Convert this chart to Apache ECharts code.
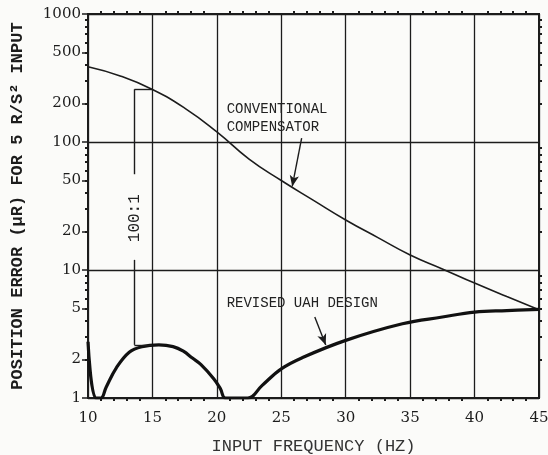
<!DOCTYPE html>
<html>
<head>
<meta charset="utf-8">
<script src="https://cdn.jsdelivr.net/npm/echarts@6/dist/echarts.min.js"></script>
<style>
html,body{margin:0;padding:0;background:#fbfbf9;}
#c{width:548px;height:455px;}
</style>
</head>
<body>
<div id="c"></div>
<script>
// ---- data ----
const convFreq  = [10, 12.5, 15, 17.5, 20, 22.5, 25, 27.5, 30, 32.5, 35, 37.5, 40, 42.5, 45];
const convError = [387, 328, 257, 184, 120, 73.5, 50, 35, 24.6, 17.9, 13.1, 10.2, 7.9, 6.2, 4.9];

const revFreq  = [10, 10.6, 11.0, 11.4, 12.2, 13.2, 14.2, 15.5, 16.6, 17.4, 18.1, 18.75, 19.77, 20.28, 20.67, 22.4, 23.5, 25, 26.7, 30, 34.4, 37.5, 40, 42.5, 45];
const revError = [2.75, 1, 1, 1.21, 1.72, 2.28, 2.52, 2.6, 2.52, 2.32, 2.05, 1.83, 1.41, 1.18, 1, 1, 1.25, 1.69, 2.08, 2.82, 3.8, 4.29, 4.69, 4.82, 4.93];

const xTicks = [10, 15, 20, 25, 30, 35, 40, 45];
const xMinorValues = [11,12,13,14,16,17,18,19,21,22,23,24,26,27,28,29,31,32,33,34,36,37,38,39,41,42,43,44];
const yTickLabels = [1, 2, 5, 10, 20, 50, 100, 200, 500, 1000];
const yMinorValues = [2,3,4,5,6,7,8,9,20,30,40,50,60,70,80,90,200,300,400,500,600,700,800,900];

// annotation anchors (data coordinates)
const convArrow = [[26.58, 107], [25.85, 45]];
const revArrow  = [[27.6, 4.3], [28.45, 2.6]];
const ratioTop    = [[13.6, 258], [13.6, 56]];
const ratioBottom = [[13.6, 12], [13.6, 2.6]];
const ratioTopTick    = [[13.6, 258], [15.0, 258]];
const ratioBottomTick = [[13.6, 2.6], [15.0, 2.6]];

const ink = '#1c1c1c';
const chart = echarts.init(document.getElementById('c'));

const yLog = yTickLabels.map(v => Math.log10(v));
const yMinorLog = yMinorValues.map(v => Math.log10(v));

function seg(a, b, arrowEnd) {
  return [
    {coord: a, symbol: 'none'},
    {coord: b, symbol: arrowEnd ? 'arrow' : 'none'}
  ];
}
const G = {left: 88, right: 9, top: 14, bottom: 57, outerBoundsMode: 'none', containLabel: false};
const minorTick = vals => ({show: true, inside: false, length: 3, customValues: vals, lineStyle: {color: ink, width: 2}});
const tickOnlyX = (gi, pos) => ({
  type: 'value', gridIndex: gi, min: 10, max: 45, position: pos,
  axisLine: {show: false}, splitLine: {show: false},
  axisLabel: {show: false},
  axisTick: minorTick(xMinorValues)
});
const tickOnlyY = (gi, pos) => ({
  type: 'value', gridIndex: gi, min: 0, max: 3, position: pos,
  axisLine: {show: false}, splitLine: {show: false},
  axisLabel: {show: false},
  axisTick: minorTick(yMinorLog)
});

chart.setOption({
  backgroundColor: '#fbfbf9',
  animation: false,
  grid: [
    Object.assign({show: true, borderColor: ink, borderWidth: 2, backgroundColor: 'transparent'}, G),
    Object.assign({}, G),
    Object.assign({}, G)
  ],
  xAxis: [{
    type: 'value', gridIndex: 0, min: 10, max: 45, interval: 5, position: 'bottom',
    name: 'INPUT FREQUENCY (HZ)', nameLocation: 'middle', nameGap: 40,
    nameTextStyle: {fontFamily: 'Liberation Mono', fontSize: 17, color: '#333'},
    axisLine: {show: false},
    axisTick: {show: false},
    axisLabel: {fontFamily: 'DejaVu Serif', fontSize: 15, color: ink, margin: 13},
    splitLine: {show: true, lineStyle: {color: ink, width: 1.3}}
  }, tickOnlyX(0, 'top'), tickOnlyX(1, 'bottom'), {type: 'value', gridIndex: 2, min: 10, max: 45, show: false}],
  yAxis: [{
    type: 'log', gridIndex: 0, logBase: 10, min: 1, max: 1000, position: 'left',
    axisLine: {show: false}, axisTick: {show: false}, axisLabel: {show: false},
    splitLine: {show: true, lineStyle: {color: ink, width: 1.3}}
  }, tickOnlyY(0, 'right'), {
    type: 'value', gridIndex: 1, min: 0, max: 3, position: 'left',
    name: 'POSITION ERROR (μR) FOR 5 R/S² INPUT', nameLocation: 'middle', nameRotate: 90, nameGap: 62,
    nameTextStyle: {fontFamily: 'Liberation Mono', fontWeight: 'bold', fontSize: 17, color: ink},
    axisLine: {show: false}, splitLine: {show: false},
    axisTick: {show: true, customValues: yLog, length: 6, inside: false, lineStyle: {color: ink, width: 1.5}},
    axisLabel: {customValues: yLog, fontFamily: 'DejaVu Serif', fontSize: 15, color: ink, margin: 7,
      formatter: v => String(Math.round(Math.pow(10, v)))}
  }, tickOnlyY(2, 'left')],
  series: [{
    name: 'Conventional compensator', type: 'line', xAxisIndex: 0, yAxisIndex: 0,
    data: convFreq.map((f, i) => [f, convError[i]]),
    smooth: 0.5, showSymbol: false, clip: true,
    lineStyle: {color: ink, width: 1.6},
    markLine: {
      silent: true, symbolSize: [7, 11], animation: false,
      lineStyle: {color: ink, width: 1.4, type: 'solid'},
      label: {show: false},
      data: [
        seg(convArrow[0], convArrow[1], true),
        seg(ratioTop[0], ratioTop[1], false),
        seg(ratioTopTick[0], ratioTopTick[1], false)
      ]
    }
  }, {
    name: 'Revised UAH design', type: 'line', xAxisIndex: 0, yAxisIndex: 0,
    data: revFreq.map((f, i) => [f, revError[i]]),
    smooth: 0.4, showSymbol: false, clip: true,
    lineStyle: {color: '#111', width: 3.2},
    markLine: {
      silent: true, symbolSize: [7, 11], animation: false,
      lineStyle: {color: ink, width: 1.4, type: 'solid'},
      label: {show: false},
      data: [
        seg(revArrow[0], revArrow[1], true),
        seg(ratioBottom[0], ratioBottom[1], false),
        seg(ratioBottomTick[0], ratioBottomTick[1], false)
      ]
    }
  }]
});

function px(pt) { return chart.convertToPixel({xAxisIndex: 0, yAxisIndex: 0}, pt); }
const pConv = px([20.76, 111.7]);
const pRev  = px([20.76, 5.5]);
const pRatio = px([13.6, 25.4]);
const txt = {fontFamily: 'Liberation Mono', fontSize: 14, fill: '#222'};
chart.setOption({
  graphic: [
    {type: 'text', x: pConv[0], y: pConv[1], style: Object.assign({text: 'CONVENTIONAL\nCOMPENSATOR', lineHeight: 18, verticalAlign: 'bottom'}, txt)},
    {type: 'text', x: pRev[0], y: pRev[1], style: Object.assign({text: 'REVISED UAH DESIGN', verticalAlign: 'middle'}, txt)},
    {type: 'text', x: pRatio[0], y: pRatio[1], rotation: Math.PI / 2,
      style: {text: '100:1', fontFamily: 'Liberation Mono', fontSize: 16, fill: '#222', align: 'center', verticalAlign: 'middle',
        backgroundColor: '#fbfbf9', padding: [6, 2]}}
  ]
});
</script>
</body>
</html>
